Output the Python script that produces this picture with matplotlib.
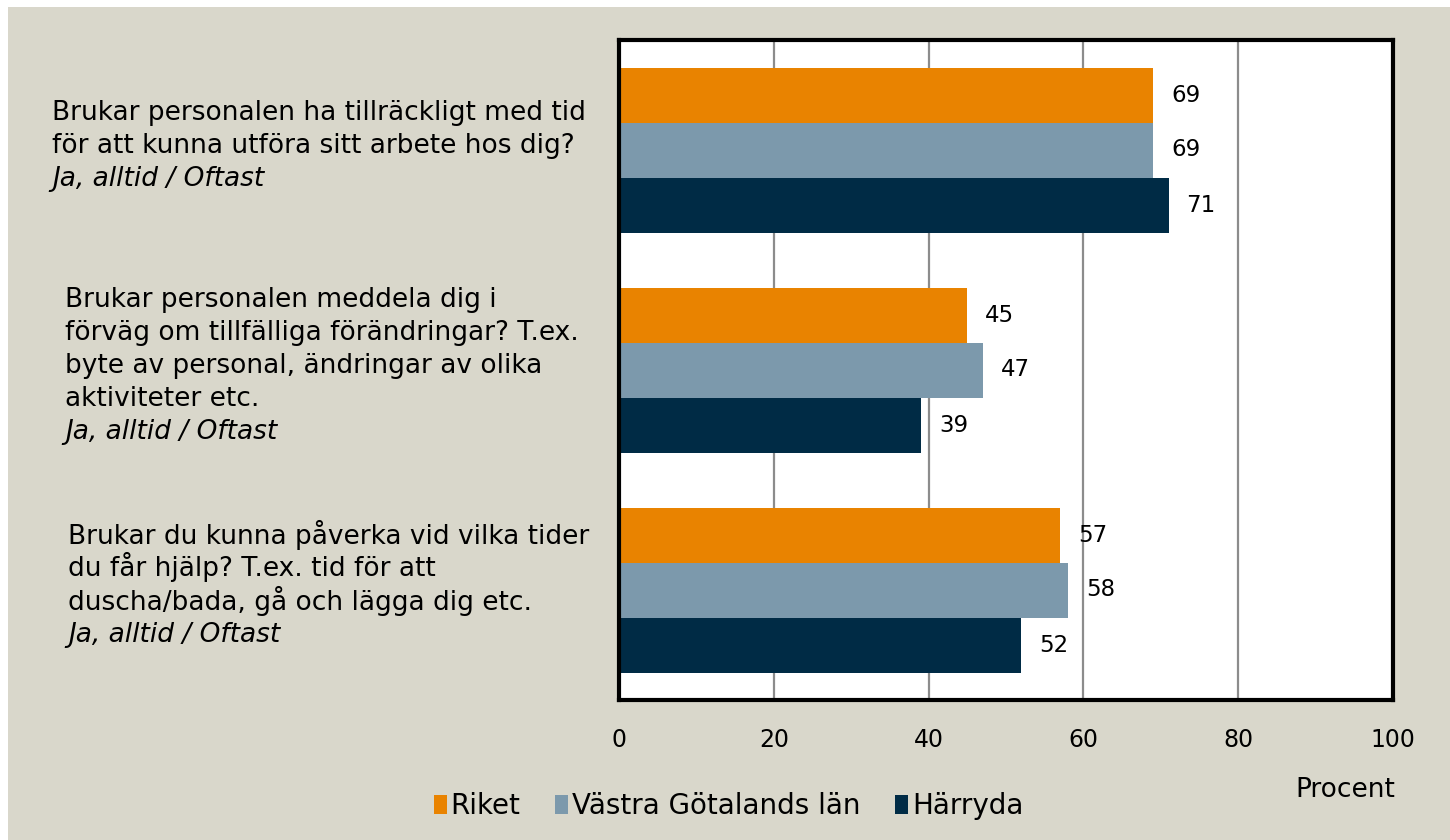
import numpy as np
import matplotlib
matplotlib.use("Agg")
from matplotlib import pyplot as plt
from matplotlib.patches import Rectangle
from matplotlib.transforms import blended_transform_factory

# data
questions = [
    "Brukar personalen ha tillräckligt med tid\nför att kunna utföra sitt arbete hos dig?",
    "Brukar personalen meddela dig i\nförväg om tillfälliga förändringar? T.ex.\nbyte av personal, ändringar av olika\naktiviteter etc.",
    "Brukar du kunna påverka vid vilka tider\ndu får hjälp? T.ex. tid för att\nduscha/bada, gå och lägga dig etc.",
]
answer_note = "Ja, alltid / Oftast"
series_names = ["Riket", "Västra Götalands län", "Härryda"]
riket = [69, 45, 57]
vgl = [69, 47, 58]
harryda = [71, 39, 52]
xticks = [0, 20, 40, 60, 80, 100]

colors = ["#E98300", "#7C99AC", "#002B45"]
bg = "#D9D7CB"
plt.rcParams['font.family'] = ['DejaVu Sans']

fig = plt.figure(figsize=(14.5, 8.4), dpi=100, facecolor="white")
fig.patches.append(Rectangle((8 / 1450, 0), 1, 1 - 7 / 840, transform=fig.transFigure,
                             facecolor=bg, edgecolor="none", zorder=-10))

ax = fig.add_axes([619 / 1450, 1 - 700 / 840, (1393 - 619) / 1450, 660 / 840])
ax.set_facecolor("white")

y = np.arange(len(questions))
h = 0.25
for k, vals in enumerate([riket, vgl, harryda]):
    pos = y + (k - 1) * h
    ax.barh(pos, vals, height=h, color=colors[k], label=series_names[k], zorder=3)
    for p, v in zip(pos, vals):
        ax.annotate(str(v), (v, p), xytext=(13, 0), textcoords="offset points",
                    va="center", ha="left", fontsize=16.5, color="black")

ax.set_xlim(0, 100)
ax.set_ylim(-0.5, 2.5)
ax.invert_yaxis()
ax.set_xticks(xticks)
ax.set_xticklabels([str(t) for t in xticks], fontsize=17)
ax.tick_params(axis="x", length=0, pad=20)
ax.set_yticks([])
ax.grid(axis="x", color="#8C8C8C", linewidth=1.6, zorder=0)
for s in ax.spines.values():
    s.set_linewidth(3)
    s.set_color("black")
    s.set_zorder(5)

# category labels on the left, one text per line
left_x = [52 / 1450, 65 / 1450, 68 / 1450]
line_px = 33
trans = blended_transform_factory(fig.transFigure, ax.transData)
for i, q in enumerate(questions):
    lines = q.split("\n") + [answer_note]
    n = len(lines)
    for j, line in enumerate(lines):
        off_px = (j - (n - 1) / 2) * line_px + 3
        ax.annotate(line, (left_x[i], y[i]), xycoords=trans,
                    xytext=(0, -off_px * 0.72), textcoords="offset points",
                    ha="left", va="baseline", fontsize=19,
                    style="italic" if j == n - 1 else "normal", annotation_clip=False)

fig.text(1395 / 1450, 1 - 790 / 840, "Procent", ha="right", va="center", fontsize=19)

leg = fig.legend(loc="center left", bbox_to_anchor=(409 / 1450, 1 - 806 / 840), ncol=3,
                 frameon=False, fontsize=20, handlelength=0.45, handleheight=0.65,
                 handletextpad=0.15, columnspacing=1.25)

fig.savefig("out.png", dpi=100, facecolor=fig.get_facecolor())
